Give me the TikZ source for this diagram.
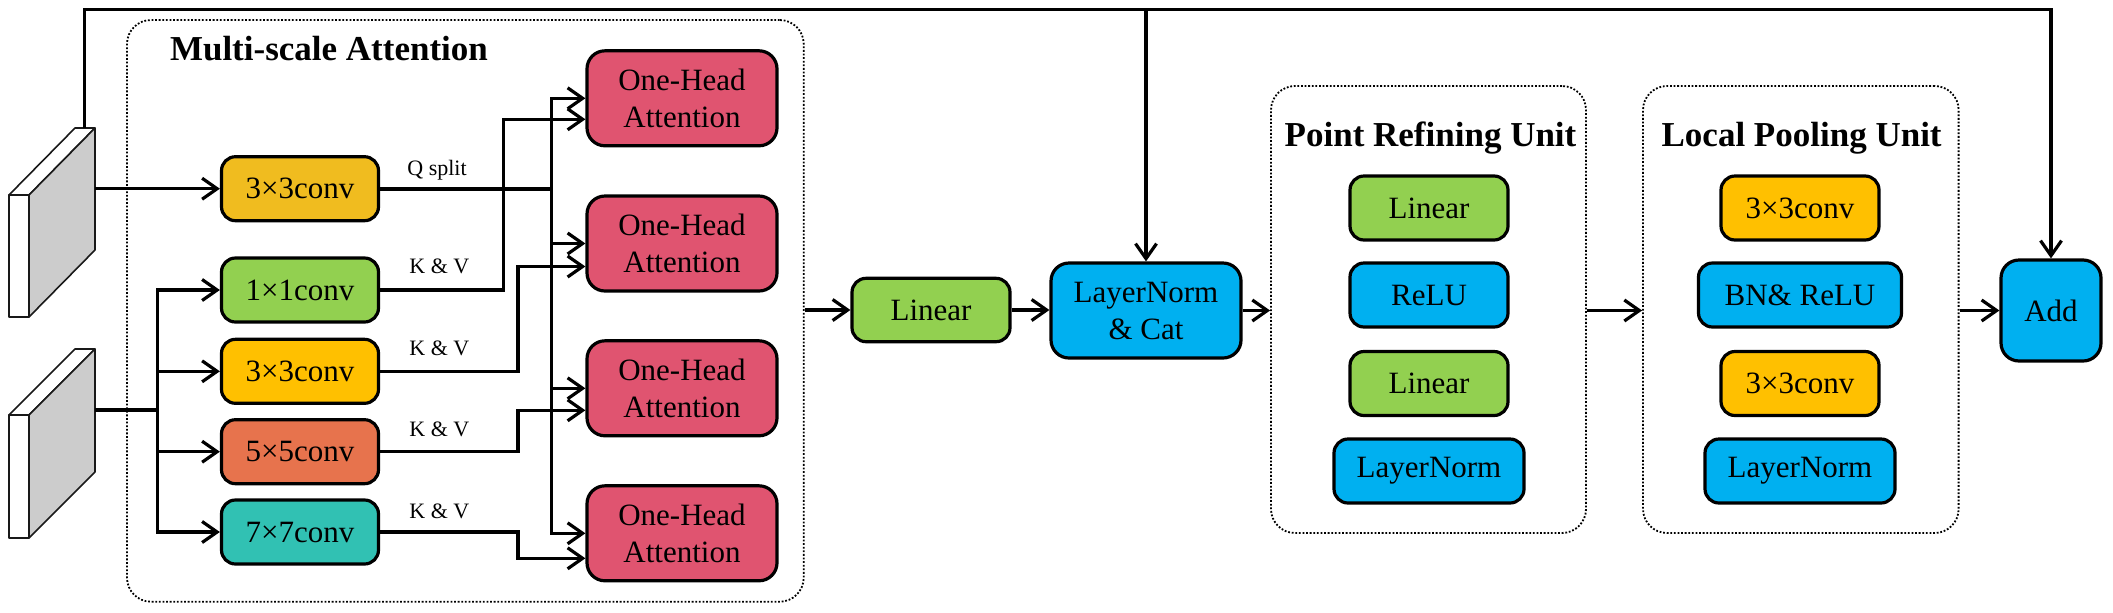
\documentclass[tikz,border=0pt]{standalone}
\usepackage{fontspec}
\setmainfont{Liberation Serif}
\usetikzlibrary{arrows.meta,calc}
\definecolor{cQ}{HTML}{F0BC1F}
\definecolor{cY}{HTML}{FFC000}
\definecolor{cG}{HTML}{92D050}
\definecolor{cO}{HTML}{E7734D}
\definecolor{cT}{HTML}{31C1B3}
\definecolor{cR}{HTML}{E05470}
\definecolor{cB}{HTML}{00B0F0}
\definecolor{cS}{HTML}{CCCCCC}
\begin{document}
\begin{tikzpicture}[x=0.5pt,y=-0.5pt,
  box/.style={draw=black, line width=1.6pt, rounded corners=7pt, align=center, inner sep=0pt,
    font=\fontsize{15.5}{18.5}\selectfont},
  bigbox/.style={box, rounded corners=9pt},
  arr/.style={line width=1.6pt, -{Straight Barb[length=7.5pt,width=10.5pt,line width=1.6pt]}},
  ln/.style={line width=1.6pt},
  thk/.style={line width=1.9pt},
  grp/.style={draw=black, line width=0.9pt, dash pattern=on 0.9pt off 0.9pt, rounded corners=12pt, inner sep=0pt},
  ttl/.style={font=\bfseries\fontsize{17.5}{20}\selectfont, inner sep=0pt, anchor=base},
  lbl/.style={font=\fontsize{11}{13}\selectfont, inner sep=0pt, anchor=base west},
  slab/.style={draw=black!90, line width=0.8pt, line join=round},
]
\useasboundingbox (0,0) rectangle (2113,612);

% group boxes
\node[grp, minimum width=338.35pt, minimum height=290.85pt] (msa) at (465.35,310.85) {};
\node[grp, minimum width=157.5pt, minimum height=223.5pt] (pru) at (1428.5,309.5) {};
\node[grp, minimum width=157.8pt, minimum height=223.5pt] (lpu) at (1800.8,309.5) {};

\node[ttl, anchor=base west] (tmsa) at (169.6,60) {Multi-scale Attention};
\node[ttl] (tpru) at (1430.5,146.7) {Point Refining Unit};
\node[ttl] (tlpu) at (1801.6,146.7) {Local Pooling Unit};

% input slabs
\filldraw[slab, fill=white] (9,195) rectangle (29,317);
\filldraw[slab, fill=white] (9,195) -- (75,128) -- (95,128) -- (29,195) -- cycle;
\filldraw[slab, fill=cS] (29,195) -- (95,128) -- (95,250) -- (29,317) -- cycle;
\filldraw[slab, fill=white] (9,415) rectangle (29,538);
\filldraw[slab, fill=white] (9,415) -- (75,349) -- (95,349) -- (29,415) -- cycle;
\filldraw[slab, fill=cS] (29,415) -- (95,349) -- (95,472) -- (29,538) -- cycle;

\coordinate (b1top) at (84.6,128);
\coordinate (topL) at (84.6,9.5);
\coordinate (b1out) at (95,188.7);
\coordinate (b2out) at (95,410);
\coordinate (bus) at (157.1,410);
\coordinate (qx) at (551.4,188.7);
\coordinate (kA) at (503.6,0);
\coordinate (kB) at (518,0);

% conv boxes
\node[box, fill=cQ, minimum width=78.5pt, minimum height=32pt] (convQ) at (300,188.7) {3×3conv};
\node[box, fill=cG, minimum width=78.5pt, minimum height=32pt] (conv1) at (300,290) {1×1conv};
\node[box, fill=cY, minimum width=78.5pt, minimum height=32pt] (conv3) at (300,371.3) {3×3conv};
\node[box, fill=cO, minimum width=78.5pt, minimum height=32pt] (conv5) at (300,451.7) {5×5conv};
\node[box, fill=cT, minimum width=78.5pt, minimum height=32pt] (conv7) at (300,532) {7×7conv};

% attention boxes
\node[bigbox, fill=cR, minimum width=95pt, minimum height=47.5pt] (att1) at (682,98.3) {One-Head\\Attention};
\node[bigbox, fill=cR, minimum width=95pt, minimum height=47.5pt] (att2) at (682,243.5) {One-Head\\Attention};
\node[bigbox, fill=cR, minimum width=95pt, minimum height=47.5pt] (att3) at (682,388.3) {One-Head\\Attention};
\node[bigbox, fill=cR, minimum width=95pt, minimum height=47.5pt] (att4) at (682,533.3) {One-Head\\Attention};

% middle
\node[box, fill=cG, minimum width=79pt, minimum height=31.7pt] (lin1) at (931,310) {Linear};
\node[bigbox, fill=cB, minimum width=95pt, minimum height=47.5pt] (lnc) at (1146,310.5) {LayerNorm\\\& Cat};

% point refining unit
\node[box, fill=cG, minimum width=79pt, minimum height=32pt] (p1) at (1429,208) {Linear};
\node[box, fill=cB, minimum width=79pt, minimum height=32pt] (p2) at (1429,295) {ReLU};
\node[box, fill=cG, minimum width=79pt, minimum height=32pt] (p3) at (1429,383.5) {Linear};
\node[box, fill=cB, minimum width=95pt, minimum height=32pt] (p4) at (1429,471) {LayerNorm};

% local pooling unit
\node[box, fill=cY, minimum width=79pt, minimum height=32pt] (l1) at (1800,208) {3×3conv};
\node[box, fill=cB, minimum width=101.5pt, minimum height=32pt] (l2) at (1800,295) {BN\& ReLU};
\node[box, fill=cY, minimum width=79pt, minimum height=32pt] (l3) at (1800,383.5) {3×3conv};
\node[box, fill=cB, minimum width=95pt, minimum height=32pt] (l4) at (1800,471) {LayerNorm};

\node[bigbox, fill=cB, minimum width=50pt, minimum height=50.5pt] (add) at (2051,310.5) {Add};

% labels
\node[lbl] (lq) at (407,175) {Q split};
\node[lbl] (lk1) at (409,273) {K \& V};
\node[lbl] (lk3) at (409,355) {K \& V};
\node[lbl] (lk5) at (409,436.7) {K \& V};
\node[lbl] (lk7) at (409,518.3) {K \& V};

% connectors
\draw[arr] (b1top) -- (topL) -| (add.north);
\draw[arr] (topL -| lnc.north) -- (lnc.north);
\draw[arr] (b1out) -- (convQ.west);
\draw[thk] (b2out) -- (bus);
\draw[arr] (bus) |- (conv1.west);
\draw[arr] (bus) |- (conv7.west);
\draw[arr] (bus |- conv3.west) -- (conv3.west);
\draw[arr] (bus |- conv5.west) -- (conv5.west);

\draw[thk] (convQ.east) -- (qx);
\draw[arr] (qx) |- (att1.west);
\draw[arr] (qx) |- (att4.west);
\draw[arr] (qx |- att2.west) -- (att2.west);
\draw[arr] (qx |- att3.west) -- (att3.west);

\draw[arr] (conv1.east) -| ($(kA |- att1.west)+(0,21)$) -- ($(att1.west)+(0,21)$);
\draw[arr] (conv3.east) -| ($(kB |- att2.west)+(0,23)$) -- ($(att2.west)+(0,23)$);
\draw[arr] (conv5.east) -| ($(kB |- att3.west)+(0,22)$) -- ($(att3.west)+(0,22)$);
\draw[arr] (conv7.east) -| ($(kB |- att4.west)+(0,25)$) -- ($(att4.west)+(0,25)$);

\draw[arr] (msa.east |- lin1.west) -- (lin1.west);
\draw[arr] (lin1.east) -- (lnc.west |- lin1.east);
\draw[arr] (lnc.east) -- (pru.west |- lnc.east);
\draw[arr] (pru.east |- lnc.east) -- (lpu.west |- lnc.east);
\draw[arr] (lpu.east |- add.west) -- (add.west);
\end{tikzpicture}
\end{document}
